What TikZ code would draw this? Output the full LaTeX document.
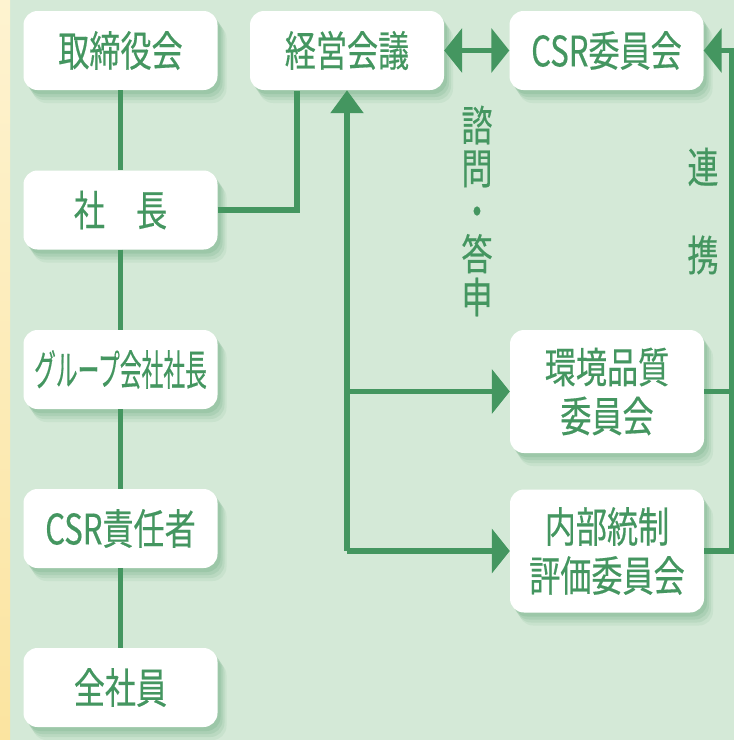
\documentclass[tikz,border=0pt]{standalone}
\usepackage{fontspec}
\newfontfamily\jp[FakeStretch=0.74,FakeBold=0.4]{Noto Sans CJK JP}
\usetikzlibrary{arrows.meta}
\definecolor{tgreen}{RGB}{68,150,96}
\definecolor{bgc}{RGB}{212,233,215}
\definecolor{ylwa}{RGB}{254,243,208}
\definecolor{ylwb}{RGB}{251,228,160}
\definecolor{shd}{RGB}{70,145,95}
\begin{document}
\begin{tikzpicture}[x=1pt,y=-1pt,
  softshadow/.style={
    preaction={fill=shd, fill opacity=0.08, draw=none, transform canvas={xshift=9pt,yshift=-13pt}},
    preaction={fill=shd, fill opacity=0.10, draw=none, transform canvas={xshift=7pt,yshift=-10pt}},
    preaction={fill=shd, fill opacity=0.12, draw=none, transform canvas={xshift=5pt,yshift=-7pt}},
    preaction={fill=shd, fill opacity=0.14, draw=none, transform canvas={xshift=3pt,yshift=-4pt}}},
  box/.style={rounded corners=14pt, fill=white, inner sep=0pt,
    minimum width=194pt, minimum height=79pt, text=tgreen,
    font=\fontsize{42pt}{49pt}\selectfont\jp, align=center, softshadow},
  tall/.style={minimum height=123pt},
  conn/.style={draw=tgreen, line width=5.5pt},
  harrow/.style={-{Triangle[length=18pt,width=44pt]}},
  varrow/.style={{Triangle[length=23pt,width=32pt]}-},
  lbl/.style={text=tgreen, inner sep=0pt, align=center}]
\useasboundingbox (0,0) rectangle (734,740);
\fill[bgc] (0,0) rectangle (734,740);
\shade[top color=ylwa, bottom color=ylwb] (0,0) rectangle (10,740);

\node[box] (torishimari) at (120.5,50.5) {取締役会};
\node[box] (shacho) at (120.5,210) {社　長};
\node[box] (group) at (120.5,369.5) {\scalebox{0.70}[1]{グループ会社社長}};
\node[box] (csrsek) at (120.5,528.5) {CSR責任者};
\node[box] (zenshain) at (120.5,687.5) {全社員};
\node[box] (keiei) at (347,50.5) {経営会議};
\node[box] (csrcom) at (606.5,50.5) {CSR委員会};
\node[box, tall] (kankyo) at (607,391.5) {環境品質\\委員会};
\node[box, tall] (naibu) at (607,551) {内部統制\\評価委員会};

\node[lbl, font=\fontsize{42pt}{43pt}\selectfont\jp] (shimon) at (477,211) {諮\\問\\・\\答\\申};
\node[lbl, font=\fontsize{42pt}{88pt}\selectfont\jp] (renkei) at (703,211) {連\\携};

\coordinate (k1) at (297,90.5);
\coordinate (bot) at (347,551);
\coordinate (b1) at (347,391.5);
\coordinate (r0) at (731.5,50.5);
\coordinate (r1) at (731.5,391.5);

\draw[conn] (torishimari.south) -- (shacho.north);
\draw[conn] (shacho.south) -- (group.north);
\draw[conn] (group.south) -- (csrsek.north);
\draw[conn] (csrsek.south) -- (zenshain.north);
\draw[conn] (shacho.east) -| (k1);
\draw[conn, varrow] (keiei.south) -- (bot);
\draw[conn, harrow] (bot) -- (naibu.west);
\draw[conn, harrow] (b1) -- (kankyo.west);
\draw[conn, {Triangle[length=18pt,width=44pt]}-{Triangle[length=18pt,width=44pt]}] (keiei.east) -- (csrcom.west);
\draw[conn, harrow] (naibu.east) -| (r0) -- (csrcom.east);
\draw[conn] (kankyo.east) -- (r1);
\end{tikzpicture}
\end{document}
